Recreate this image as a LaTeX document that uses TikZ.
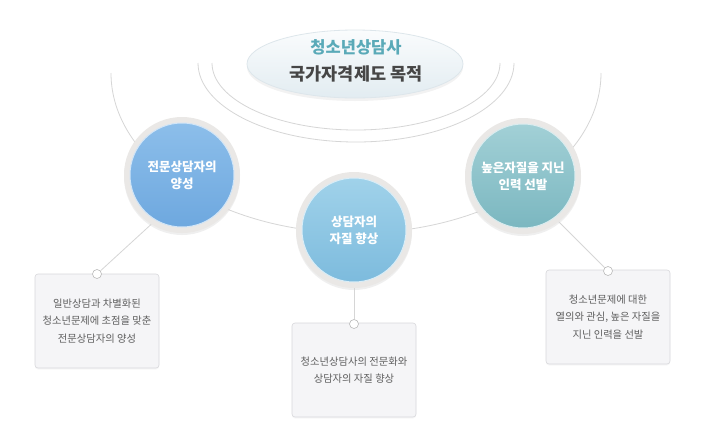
\documentclass[tikz,border=0pt]{standalone}
\usepackage{fontspec}
\setmainfont{Noto Sans CJK KR}
\usetikzlibrary{shapes.geometric,shadows}
\definecolor{linegray}{HTML}{D6D6D6}
\definecolor{ringgray}{HTML}{EAE8E6}
\definecolor{boxfill}{HTML}{F5F5F7}
\definecolor{boxline}{HTML}{D8D8DC}
\definecolor{boxtext}{HTML}{5E5E5E}
\definecolor{titleteal}{HTML}{5AAAB8}
\definecolor{titlegray}{HTML}{464646}
\definecolor{ellA}{HTML}{FAFCFD}
\definecolor{ellB}{HTML}{E2ECF1}
\definecolor{ellLine}{HTML}{DDE6EB}
\definecolor{blueA}{HTML}{8CBEEA}
\definecolor{blueB}{HTML}{6EA8DF}
\definecolor{skyA}{HTML}{A0D2EA}
\definecolor{skyB}{HTML}{7DBBDD}
\definecolor{tealA}{HTML}{A2D0D6}
\definecolor{tealB}{HTML}{7BB7C0}
\begin{document}
\begin{tikzpicture}[x=1pt,y=-1pt]
\useasboundingbox[fill=white] (0,0) rectangle (719,432);
\tikzset{
  guide/.style={draw=linegray, line width=0.8pt},
  ringnode/.style={circle, fill=ringgray, minimum size=116pt, inner sep=0pt,
     drop shadow={opacity=0.12, shadow xshift=0pt, shadow yshift=-2pt}},
  disc/.style={circle, minimum size=104pt, inner sep=0pt, text=white,
     align=center, font=\fontsize{12.5}{17}\selectfont\bfseries},
  infobox/.style={rectangle, rounded corners=3pt, fill=boxfill, draw=boxline,
     line width=0.6pt, minimum width=124pt, minimum height=94pt, align=center,
     text=boxtext, font=\fontsize{10.3}{17.5}\selectfont,
     drop shadow={opacity=0.06, shadow xshift=0pt, shadow yshift=-1.5pt}},
  pin/.style={circle, fill=white, draw=gray!55, line width=0.6pt,
     minimum size=9pt, inner sep=0pt},
  titleell/.style={ellipse, minimum width=216pt, minimum height=68pt, inner sep=0pt,
     top color=ellA, bottom color=ellB, draw=ellLine, line width=0.8pt, align=center,
     drop shadow={opacity=0.10, shadow xshift=0pt, shadow yshift=-3pt}},
}
% guide arcs
\draw[guide] (111,73) arc[start angle=180, end angle=0, x radius=245, y radius=160];
\draw[guide] (212,63) arc[start angle=180, end angle=0, x radius=144, y radius=67];
\draw[guide] (198,63) arc[start angle=180, end angle=0, x radius=158, y radius=79];

% rings
\node[ringnode] (ringL) at (182,175) {};
\node[ringnode] (ringM) at (354,230) {};
\node[ringnode] (ringR) at (523,176) {};

% boxes and pins
\node[infobox] (boxL) at (97,321) {일반상담과 차별화된\\청소년문제에 초점을 맞춘\\전문상담자의 양성};
\node[infobox] (boxM) at (354,370) {청소년상담사의 전문화와\\상담자의 자질 향상};
\node[infobox] (boxR) at (608,317) {청소년문제에 대한\\열의와 관심, 높은 자질을\\지닌 인력을 선발};

\node[pin] (pinL) at (97,274) {};
\node[pin] (pinM) at (354,324) {};
\node[pin] (pinR) at (608,271) {};

% connectors
\draw[guide] (ringL.-122) -- (pinL);
\draw[guide] (ringM.south) -- (pinM);
\draw[guide] (ringR.-52) -- (pinR);

% discs
\node[disc, top color=blueA, bottom color=blueB, draw=blueA!40!white, line width=1pt] (discL) at (182,175) {전문상담자의\\양성};
\node[disc, top color=skyA, bottom color=skyB, draw=skyA!40!white, line width=1pt] (discM) at (354,230) {상담자의\\자질 향상};
\node[disc, top color=tealA, bottom color=tealB, draw=tealA!40!white, line width=1pt] (discR) at (523,176) {높은자질을 지닌\\인력 선발};

% title
\node[titleell] (title) at (355,64) {};
\node[font=\bfseries, text=titleteal] (titleA) at (356,47) {\fontsize{16.5}{20}\selectfont 청소년상담사};
\node[font=\bfseries, text=titlegray] (titleB) at (356,74) {\fontsize{17.5}{20}\selectfont 국가자격제도 목적};
\end{tikzpicture}
\end{document}
